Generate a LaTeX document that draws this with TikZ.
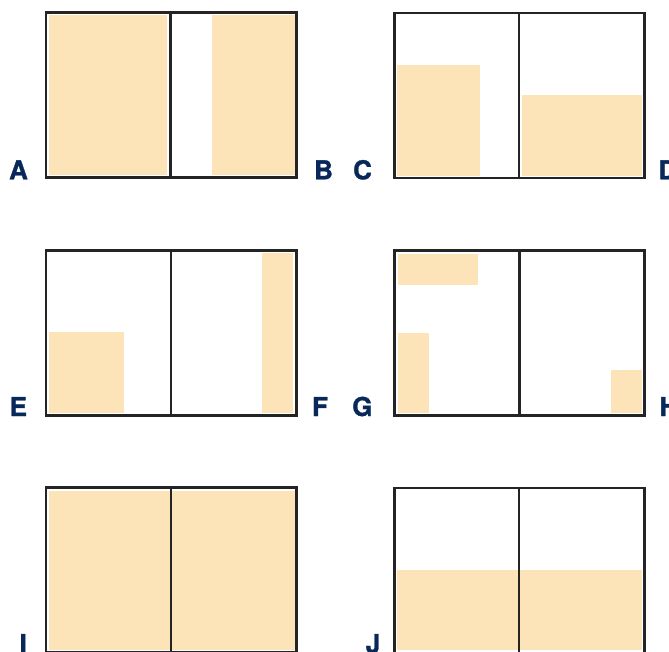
\documentclass[tikz,border=0pt]{standalone}
\usepackage{fontspec}
\setsansfont{TeX Gyre Heros}[BoldFeatures={FakeBold=1.2}]
\definecolor{peach}{RGB}{252,228,184}
\definecolor{navy}{RGB}{8,40,90}
\definecolor{frameline}{RGB}{36,36,36}

\begin{document}
\begin{tikzpicture}[
  x=1pt, y=-1pt,
  panel/.style={draw=frameline, line width=2.5pt},
  divider/.style={draw=frameline, line width=2.4pt},
  patch/.style={fill=peach},
  tag/.style={font=\sffamily\bfseries\fontsize{26}{26}\selectfont, text=navy,
              anchor=base, inner sep=0pt},
]
  \useasboundingbox (0,0) rectangle (669,652);

  % Filled areas first, frames drawn over them.
  \fill[patch] (49,14.7) rectangle (167,175);
  \fill[patch] (212,14.7) rectangle (294.7,175);
  \fill[patch] (397,65) rectangle (480,176);
  \fill[patch] (522,95) rectangle (642,176);
  \fill[patch] (49,332) rectangle (124,412.7);
  \fill[patch] (262,252.7) rectangle (293,412.7);
  \fill[patch] (398,254) rectangle (478,284.7);
  \fill[patch] (398,333) rectangle (429,412.7);
  \fill[patch] (611,370) rectangle (642,412.7);
  \fill[patch] (49,491) rectangle (294.7,650);
  \fill[patch] (397,570) rectangle (642,650);

  % Two-page frames with the fold line.
  \foreach \xl/\xm/\xr/\yt/\yb in {46/170.5/296.5/12.5/177.5, 394.5/519/644.5/13/178,
      46/171/296.5/250.5/415.5, 394.5/519.5/644.5/250.5/415.5,
      46/171/296.5/487.5/652.5, 394.5/519/644.5/488/653} {
    \draw[panel] (\xl,\yt) rectangle (\xr,\yb);
    \draw[divider] (\xm,\yt) -- (\xm,\yb);
  }

  % Letters, on the baseline of each frame.
  \node[tag] (la) at (18.5,179.3) {A};
  \node[tag] (lb) at (323.5,179.3) {B};
  \node[tag] (lc) at (362.5,179.3) {C};
  \node[tag] (ld) at (668,179.3) {D};
  \node[tag] (le) at (18.3,416) {E};
  \node[tag] (lf) at (320,416) {F};
  \node[tag] (lg) at (362.3,416) {G};
  \node[tag] (lh) at (669,416) {H};
  \node[tag] (li) at (23.2,653) {I};
  \node[tag] (lj) at (373,653) {J};
\end{tikzpicture}
\end{document}
